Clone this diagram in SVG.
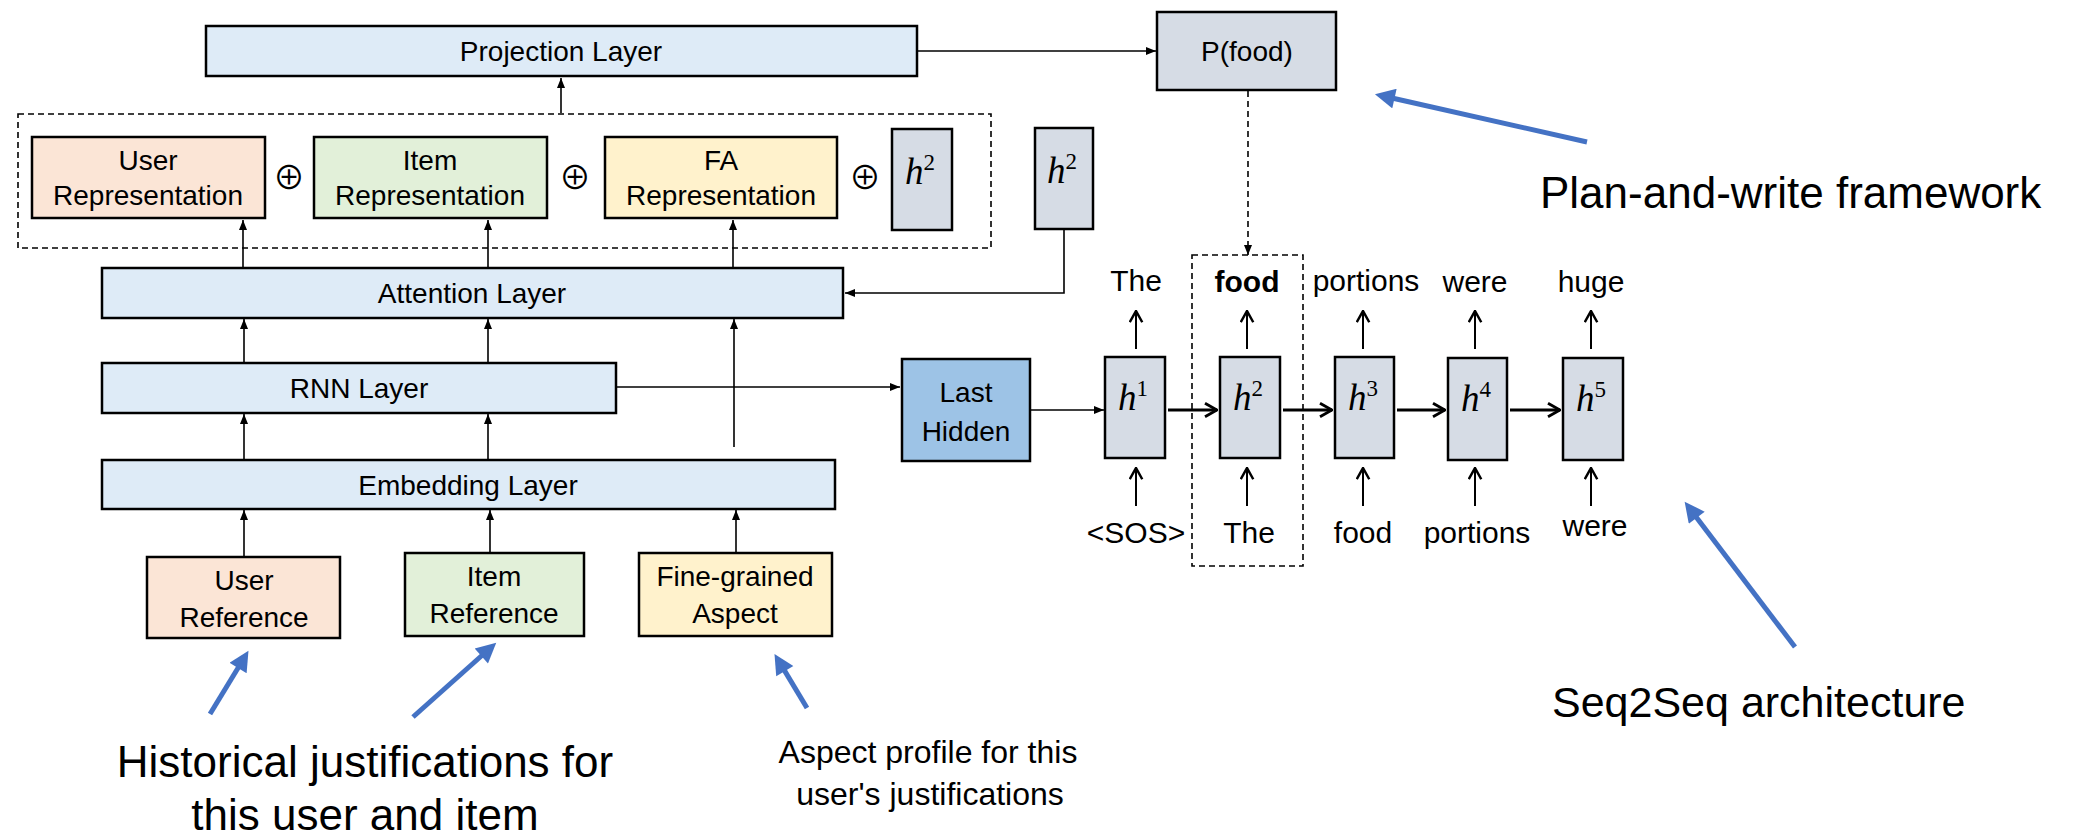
<svg xmlns="http://www.w3.org/2000/svg" width="2080" height="840" viewBox="0 0 2080 840">
<defs>
<style>
.box{stroke:#000;stroke-width:2.5}
.layer{fill:#DEEBF7}
.user{fill:#FBE5D6}
.item{fill:#E2F0D9}
.fa{fill:#FFF2CC}
.hbox{fill:#D6DCE5}
.last{fill:#9DC3E6}
.dash{fill:none;stroke:#000;stroke-width:1.6;stroke-dasharray:6,4}
.lbl{font-family:"Liberation Sans",Arial,sans-serif;font-size:28px;fill:#000;text-anchor:middle}
.word{font-family:"Liberation Sans",Arial,sans-serif;font-size:30px;fill:#000;text-anchor:middle}
.ann{font-family:"Liberation Sans",Arial,sans-serif;fill:#000}
.hmath{font-family:"Liberation Serif","DejaVu Serif",serif;font-style:italic;font-size:37px;fill:#000;text-anchor:middle}
.sup{font-size:23px;font-style:normal}
.oplus{font-family:"Noto Sans CJK SC","DejaVu Sans",sans-serif;font-size:32px;fill:#000;text-anchor:middle}
.thin{fill:none;stroke:#000;stroke-width:1.6}
.up{fill:none;stroke:#000;stroke-width:2}
.thick{fill:none;stroke:#000;stroke-width:3}
.blue{fill:none;stroke:#4472C4;stroke-width:5}
</style>
<marker id="tri" viewBox="0 0 10 10" refX="10" refY="5" markerWidth="10" markerHeight="10" markerUnits="userSpaceOnUse" orient="auto">
<path d="M0,1 L10,5 L0,9 z" fill="#000"/>
</marker>
<marker id="chev" viewBox="0 0 12 12" refX="11" refY="6" markerWidth="15" markerHeight="15" markerUnits="userSpaceOnUse" orient="auto">
<path d="M2,1 L11,6 L2,11" fill="none" stroke="#000" stroke-width="2"/>
</marker>
<marker id="chevB" viewBox="0 0 12 12" refX="11" refY="6" markerWidth="16" markerHeight="16" markerUnits="userSpaceOnUse" orient="auto">
<path d="M2,1 L11,6 L2,11" fill="none" stroke="#000" stroke-width="2.2"/>
</marker>
<marker id="bluehead" viewBox="0 0 10 10" refX="3" refY="5" markerWidth="22" markerHeight="20" markerUnits="userSpaceOnUse" orient="auto">
<path d="M0,0 L10,5 L0,10 z" fill="#4472C4"/>
</marker>
</defs>

<g id="connectors">
<line class="thin" x1="561" y1="113" x2="561" y2="78" marker-end="url(#tri)"/>
<line class="thin" x1="917" y1="51" x2="1156" y2="51" marker-end="url(#tri)"/>
<line class="dash" x1="1248" y1="91" x2="1248" y2="255" marker-end="url(#tri)"/>
<line class="thin" x1="243" y1="267" x2="243" y2="220" marker-end="url(#tri)"/>
<line class="thin" x1="488" y1="267" x2="488" y2="220" marker-end="url(#tri)"/>
<line class="thin" x1="733" y1="267" x2="733" y2="220" marker-end="url(#tri)"/>
<path class="thin" d="M1064,230 V293 H845" marker-end="url(#tri)"/>
<line class="thin" x1="244" y1="362" x2="244" y2="319" marker-end="url(#tri)"/>
<line class="thin" x1="488" y1="362" x2="488" y2="319" marker-end="url(#tri)"/>
<line class="thin" x1="734" y1="447" x2="734" y2="319" marker-end="url(#tri)"/>
<line class="thin" x1="244" y1="459" x2="244" y2="414" marker-end="url(#tri)"/>
<line class="thin" x1="488" y1="459" x2="488" y2="414" marker-end="url(#tri)"/>
<line class="thin" x1="244" y1="556" x2="244" y2="510" marker-end="url(#tri)"/>
<line class="thin" x1="490" y1="552" x2="490" y2="510" marker-end="url(#tri)"/>
<line class="thin" x1="736" y1="552" x2="736" y2="510" marker-end="url(#tri)"/>
<line class="thin" x1="617" y1="387" x2="900" y2="387" marker-end="url(#tri)"/>
<line class="thin" x1="1031" y1="410" x2="1104" y2="410" marker-end="url(#tri)"/>
<line class="thick" x1="1168" y1="410" x2="1217" y2="410" marker-end="url(#chevB)"/>
<line class="thick" x1="1283" y1="410" x2="1332" y2="410" marker-end="url(#chevB)"/>
<line class="thick" x1="1397" y1="410" x2="1445" y2="410" marker-end="url(#chevB)"/>
<line class="thick" x1="1510" y1="410" x2="1560" y2="410" marker-end="url(#chevB)"/>
<line class="up" x1="1136" y1="349" x2="1136" y2="311" marker-end="url(#chev)"/>
<line class="up" x1="1247" y1="349" x2="1247" y2="311" marker-end="url(#chev)"/>
<line class="up" x1="1363" y1="349" x2="1363" y2="311" marker-end="url(#chev)"/>
<line class="up" x1="1475" y1="349" x2="1475" y2="311" marker-end="url(#chev)"/>
<line class="up" x1="1591" y1="349" x2="1591" y2="311" marker-end="url(#chev)"/>
<line class="up" x1="1136" y1="506" x2="1136" y2="468" marker-end="url(#chev)"/>
<line class="up" x1="1247" y1="506" x2="1247" y2="468" marker-end="url(#chev)"/>
<line class="up" x1="1363" y1="506" x2="1363" y2="468" marker-end="url(#chev)"/>
<line class="up" x1="1475" y1="506" x2="1475" y2="468" marker-end="url(#chev)"/>
<line class="up" x1="1591" y1="506" x2="1591" y2="468" marker-end="url(#chev)"/>
<line class="blue" x1="1587" y1="142" x2="1388.6" y2="97.3" marker-end="url(#bluehead)"/>
<line class="blue" x1="210" y1="714" x2="241.2" y2="662.8" marker-end="url(#bluehead)"/>
<line class="blue" x1="413" y1="717" x2="485.8" y2="652" marker-end="url(#bluehead)"/>
<line class="blue" x1="807" y1="708" x2="781.7" y2="665.9" marker-end="url(#bluehead)"/>
<line class="blue" x1="1795" y1="647" x2="1693.1" y2="512.9" marker-end="url(#bluehead)"/>
</g>

<g id="projection-layer">
<rect class="box layer" x="206" y="26" width="711" height="50"/>
<text class="lbl" x="561" y="61">Projection Layer</text>
</g>

<g id="p-food">
<rect class="box hbox" x="1157" y="12" width="179" height="78"/>
<text class="lbl" x="1247" y="61">P(food)</text>
</g>

<g id="concat-group">
<rect class="dash" x="18" y="114" width="973" height="134"/>
</g>

<g id="user-representation">
<rect class="box user" x="32" y="137" width="233" height="81"/>
<text class="lbl" x="148" y="170">User</text>
<text class="lbl" x="148" y="205">Representation</text>
</g>
<g id="oplus-1"><text class="oplus" x="289" y="189">⊕</text></g>
<g id="item-representation">
<rect class="box item" x="314" y="137" width="233" height="81"/>
<text class="lbl" x="430" y="170">Item</text>
<text class="lbl" x="430" y="205">Representation</text>
</g>
<g id="oplus-2"><text class="oplus" x="575" y="189">⊕</text></g>
<g id="fa-representation">
<rect class="box fa" x="605" y="137" width="232" height="81"/>
<text class="lbl" x="721" y="170">FA</text>
<text class="lbl" x="721" y="205">Representation</text>
</g>
<g id="oplus-3"><text class="oplus" x="865" y="189">⊕</text></g>
<g id="h2-concat">
<rect class="box hbox" x="892" y="129" width="60" height="101"/>
<text class="hmath" x="920" y="184">h<tspan class="sup" dy="-14">2</tspan></text>
</g>
<g id="h2-attn">
<rect class="box hbox" x="1035" y="128" width="58" height="101"/>
<text class="hmath" x="1062" y="183">h<tspan class="sup" dy="-14">2</tspan></text>
</g>

<g id="attention-layer">
<rect class="box layer" x="102" y="268" width="741" height="50"/>
<text class="lbl" x="472" y="303">Attention Layer</text>
</g>
<g id="rnn-layer">
<rect class="box layer" x="102" y="363" width="514" height="50"/>
<text class="lbl" x="359" y="398">RNN Layer</text>
</g>
<g id="embedding-layer">
<rect class="box layer" x="102" y="460" width="733" height="49"/>
<text class="lbl" x="468" y="495">Embedding Layer</text>
</g>

<g id="user-reference">
<rect class="box user" x="147" y="557" width="193" height="81"/>
<text class="lbl" x="244" y="590">User</text>
<text class="lbl" x="244" y="627">Reference</text>
</g>
<g id="item-reference">
<rect class="box item" x="405" y="553" width="179" height="83"/>
<text class="lbl" x="494" y="586">Item</text>
<text class="lbl" x="494" y="623">Reference</text>
</g>
<g id="fine-grained-aspect">
<rect class="box fa" x="639" y="553" width="193" height="83"/>
<text class="lbl" x="735" y="586">Fine-grained</text>
<text class="lbl" x="735" y="623">Aspect</text>
</g>

<g id="last-hidden">
<rect class="box last" x="902" y="359" width="128" height="102"/>
<text class="lbl" x="966" y="402">Last</text>
<text class="lbl" x="966" y="441">Hidden</text>
</g>

<g id="food-column">
<rect class="dash" x="1192" y="255" width="111" height="311"/>
</g>

<g id="h1">
<rect class="box hbox" x="1105" y="357" width="60" height="101"/>
<text class="hmath" x="1133" y="410">h<tspan class="sup" dy="-14">1</tspan></text>
</g>
<g id="h2">
<rect class="box hbox" x="1220" y="357" width="60" height="101"/>
<text class="hmath" x="1248" y="410">h<tspan class="sup" dy="-14">2</tspan></text>
</g>
<g id="h3">
<rect class="box hbox" x="1335" y="357" width="59" height="101"/>
<text class="hmath" x="1363" y="410">h<tspan class="sup" dy="-14">3</tspan></text>
</g>
<g id="h4">
<rect class="box hbox" x="1448" y="358" width="59" height="102"/>
<text class="hmath" x="1476" y="411">h<tspan class="sup" dy="-14">4</tspan></text>
</g>
<g id="h5">
<rect class="box hbox" x="1563" y="358" width="60" height="102"/>
<text class="hmath" x="1591" y="411">h<tspan class="sup" dy="-14">5</tspan></text>
</g>

<g id="output-words">
<text class="word" x="1136" y="291">The</text>
<text class="word" x="1247" y="292" font-weight="bold">food</text>
<text class="word" x="1366" y="291">portions</text>
<text class="word" x="1475" y="292">were</text>
<text class="word" x="1591" y="292">huge</text>
</g>
<g id="input-words">
<text class="word" x="1136" y="543">&lt;SOS&gt;</text>
<text class="word" x="1249" y="543">The</text>
<text class="word" x="1363" y="543">food</text>
<text class="word" x="1477" y="543">portions</text>
<text class="word" x="1595" y="536">were</text>
</g>

<g id="annotations">
<text class="ann" x="1540" y="208" font-size="44">Plan-and-write framework</text>
<text class="ann" x="1552" y="717" font-size="43">Seq2Seq architecture</text>
<text class="ann" x="365" y="777" font-size="44" text-anchor="middle">Historical justifications for</text>
<text class="ann" x="365" y="830" font-size="44" text-anchor="middle">this user and item</text>
<text class="ann" x="928" y="763" font-size="32" text-anchor="middle">Aspect profile for this</text>
<text class="ann" x="930" y="805" font-size="32" text-anchor="middle">user's justifications</text>
</g>
</svg>
